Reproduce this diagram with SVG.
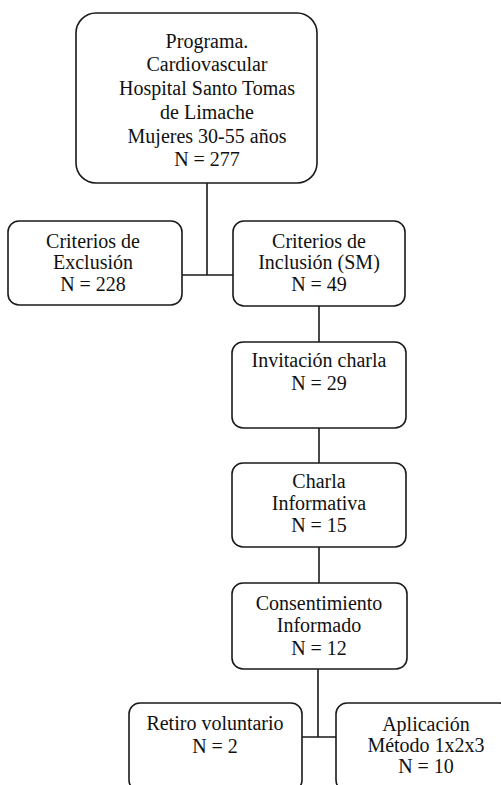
<svg xmlns="http://www.w3.org/2000/svg" width="501" height="785" viewBox="0 0 501 785">
<style>
.box{fill:#fff;stroke:#1a1a1a;stroke-width:1.6}
.ln{fill:none;stroke:#1a1a1a;stroke-width:1.6}
.t{font-family:'Liberation Serif','Times New Roman','DejaVu Serif',serif;font-size:20px;fill:#111;text-anchor:middle}
</style>
<rect width="501" height="785" fill="#fff"/>
<g id="connectors">
<path class="ln" d="M207 183V275M182 275H233"/>
<path class="ln" d="M319 306V342"/>
<path class="ln" d="M319 428V463"/>
<path class="ln" d="M319 547V583"/>
<path class="ln" d="M318 669V737M302 737H336"/>
</g>
<g id="programa" class="t">
<rect class="box" x="76" y="13" width="241" height="170" rx="20"/>
<text x="207" y="48">Programa.</text>
<text x="207" y="71">Cardiovascular</text>
<text x="207" y="95">Hospital  Santo Tomas</text>
<text x="207" y="119">de Limache</text>
<text x="207" y="143">Mujeres 30-55 años</text>
<text x="207" y="166">N = 277</text>
</g>
<g id="exclusion" class="t">
<rect class="box" x="8" y="221" width="174" height="84" rx="11"/>
<text x="93" y="248">Criterios de</text>
<text x="93" y="269">Exclusión</text>
<text x="93" y="291">N = 228</text>
</g>
<g id="inclusion" class="t">
<rect class="box" x="233" y="221" width="172" height="85" rx="11"/>
<text x="319" y="248">Criterios de</text>
<text x="319" y="269">Inclusión (SM)</text>
<text x="319" y="291">N = 49</text>
</g>
<g id="invitacion" class="t">
<rect class="box" x="232" y="342" width="174" height="86" rx="11"/>
<text x="319" y="367">Invitación charla</text>
<text x="319" y="390">N = 29</text>
</g>
<g id="charla" class="t">
<rect class="box" x="232" y="463" width="174" height="84" rx="11"/>
<text x="319" y="488">Charla</text>
<text x="319" y="510">Informativa</text>
<text x="319" y="532">N = 15</text>
</g>
<g id="consentimiento" class="t">
<rect class="box" x="232" y="583" width="175" height="86" rx="11"/>
<text x="319" y="610">Consentimiento</text>
<text x="319" y="632">Informado</text>
<text x="319" y="655">N = 12</text>
</g>
<g id="retiro" class="t">
<rect class="box" x="129" y="703" width="173" height="88" rx="11"/>
<text x="215" y="730">Retiro voluntario</text>
<text x="215" y="753">N = 2</text>
</g>
<g id="aplicacion" class="t">
<rect class="box" x="336" y="703" width="174" height="88" rx="11"/>
<text x="426" y="731">Aplicación</text>
<text x="426" y="752">Método 1x2x3</text>
<text x="426" y="773">N = 10</text>
</g>
</svg>
